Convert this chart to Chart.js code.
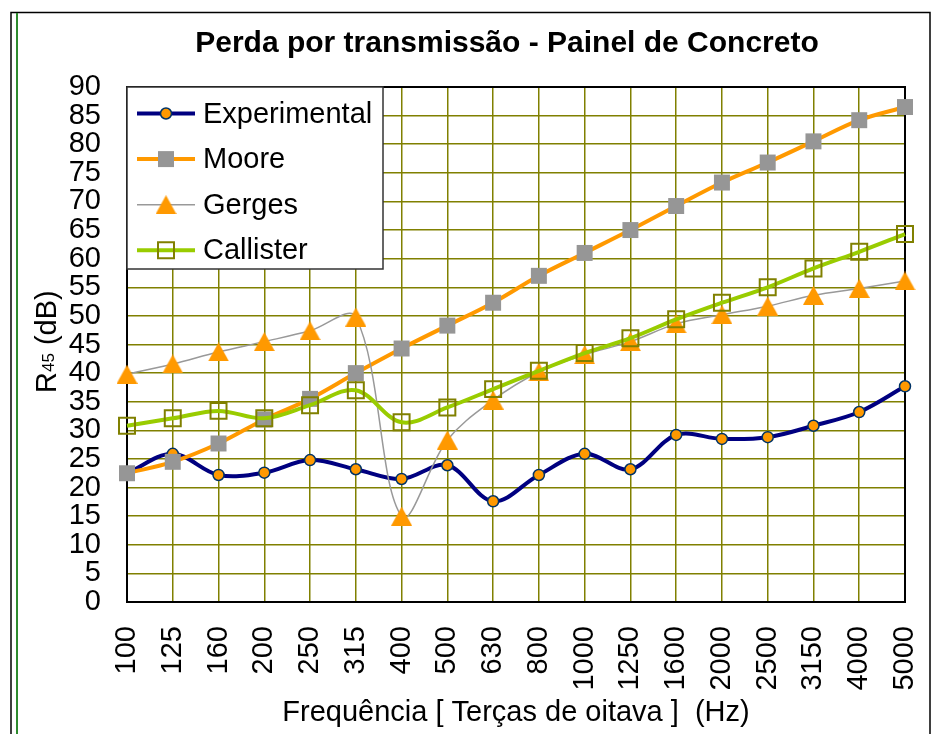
<!doctype html>
<html lang="pt">
<head>
<meta charset="utf-8">
<title>Perda por transmissão - Painel de Concreto</title>
<style>
  * { margin: 0; padding: 0; }
  body { background: #fff; }
  .chartBox { width: 937px; height: 734px; }
</style>
</head>
<body>
<div class="chartBox"><canvas id="myChart"></canvas></div>
<script src="https://cdn.jsdelivr.net/npm/chart.js"></script>
<script>
// terças de oitava (Hz)
const frequencias = ['100', '125', '160', '200', '250', '315', '400', '500', '630',
  '800', '1000', '1250', '1600', '2000', '2500', '3150', '4000', '5000'];

// R45 (dB)
const experimental = [22.5, 25.9, 22.2, 22.6, 24.8, 23.2, 21.5, 23.9, 17.6,
  22.2, 25.9, 23.2, 29.2, 28.5, 28.8, 30.8, 33.2, 37.7];
const moore = [22.5, 24.5, 27.7, 31.9, 35.5, 40.0, 44.3, 48.3, 52.3,
  57.0, 61.0, 65.0, 69.2, 73.3, 76.8, 80.5, 84.2, 86.5];
const gerges = [39.8, 41.6, 43.7, 45.5, 47.4, 49.8, 15.0, 28.3, 35.3,
  40.2, 43.2, 45.5, 48.6, 50.2, 51.7, 53.6, 54.8, 56.1];
const callister = [30.8, 32.1, 33.4, 32.1, 34.4, 37.0, 31.4, 34.0, 37.2,
  40.4, 43.5, 46.1, 49.4, 52.3, 55.0, 58.3, 61.2, 64.3];

const FONTE = "'Liberation Sans', Arial, sans-serif";

// marcador triangular centrado no ponto
function triangulo(w, h, cor) {
  const c = document.createElement('canvas');
  c.width = w; c.height = h;
  const g = c.getContext('2d');
  g.fillStyle = cor;
  g.beginPath();
  g.moveTo(w / 2, 0);
  g.lineTo(w, h);
  g.lineTo(0, h);
  g.closePath();
  g.fill();
  return c;
}
const marcaTriangulo = triangulo(21, 19, '#FF9900');

const moldura = {
  id: 'moldura',
  beforeDraw(chart) {
    const ctx = chart.ctx;
    ctx.save();
    ctx.fillStyle = '#fff';
    ctx.fillRect(0, 0, chart.width, chart.height);
    ctx.strokeStyle = '#000';
    ctx.lineWidth = 1.5;
    ctx.strokeRect(11, 12.5, 919, 740);
    ctx.strokeStyle = '#2E8B2E';
    ctx.lineWidth = 2;
    ctx.beginPath();
    ctx.moveTo(17, 13);
    ctx.lineTo(17, chart.height);
    ctx.stroke();

    // título
    ctx.fillStyle = '#000';
    ctx.font = 'bold 30px ' + FONTE;
    ctx.textAlign = 'center';
    ctx.textBaseline = 'alphabetic';
    ctx.fillText('Perda por transmissão - Painel de Concreto', 507, 52);

    // título do eixo y com índice menor
    ctx.translate(56, 393);
    ctx.rotate(-Math.PI / 2);
    ctx.textAlign = 'left';
    ctx.font = '29px ' + FONTE;
    ctx.fillText('R', 0, 0);
    let w = ctx.measureText('R').width;
    ctx.font = '17px ' + FONTE;
    ctx.fillText('45', w, -2);
    w += ctx.measureText('45').width;
    ctx.font = '29px ' + FONTE;
    ctx.fillText(' (dB)', w, 0);
    ctx.restore();
  },
  beforeDatasetsDraw(chart) {
    const ctx = chart.ctx, a = chart.chartArea;
    ctx.save();
    ctx.strokeStyle = '#000';
    ctx.lineWidth = 2;
    ctx.strokeRect(a.left, a.top, a.right - a.left, a.bottom - a.top);
    ctx.restore();
  },
  afterDraw(chart) {
    // legenda sobre a área do gráfico
    const ctx = chart.ctx, a = chart.chartArea;
    ctx.save();
    ctx.fillStyle = '#fff';
    ctx.strokeStyle = '#333';
    ctx.lineWidth = 1.5;
    ctx.fillRect(a.left, a.top, 256, 182);
    ctx.strokeRect(a.left, a.top, 256, 182);
    chart.data.datasets.forEach((ds, i) => {
      const y = a.top + 26.5 + i * 45.6;
      ctx.strokeStyle = ds.borderColor;
      ctx.lineWidth = ds.borderWidth;
      ctx.beginPath();
      ctx.moveTo(a.left + 10, y);
      ctx.lineTo(a.left + 68, y);
      ctx.stroke();
      ctx.fillStyle = ds.pointBackgroundColor;
      ctx.strokeStyle = ds.pointBorderColor;
      ctx.lineWidth = ds.pointBorderWidth;
      Chart.helpers.drawPoint(ctx, {
        pointStyle: ds.pointStyle,
        radius: ds.pointRadius,
        rotation: 0,
        borderWidth: ds.pointBorderWidth
      }, a.left + 39, y);
      ctx.fillStyle = '#000';
      ctx.font = '29px ' + FONTE;
      ctx.textAlign = 'left';
      ctx.textBaseline = 'middle';
      ctx.fillText(ds.label, a.left + 76, y + 1);
    });
    ctx.restore();
  }
};

const data = {
  labels: frequencias,
  datasets: [{
    label: 'Experimental',
    data: experimental,
    borderColor: '#000080',
    borderWidth: 4,
    pointStyle: 'circle',
    pointRadius: 5.5,
    pointBackgroundColor: '#FF9900',
    pointBorderColor: '#003366',
    pointBorderWidth: 1.5,
    order: 3
  }, {
    label: 'Moore',
    data: moore,
    borderColor: '#FF9900',
    borderWidth: 4,
    pointStyle: 'rect',
    pointRadius: 11.3,
    pointBackgroundColor: '#969696',
    pointBorderColor: '#969696',
    pointBorderWidth: 0,
    order: 2
  }, {
    label: 'Gerges',
    data: gerges,
    borderColor: '#999999',
    borderWidth: 1.5,
    pointStyle: marcaTriangulo,
    pointRadius: 10,
    pointBackgroundColor: '#FF9900',
    pointBorderColor: '#FF9900',
    pointBorderWidth: 0,
    order: 1
  }, {
    label: 'Callister',
    data: callister,
    borderColor: '#99CC00',
    borderWidth: 4,
    pointStyle: 'rect',
    pointRadius: 11.3,
    pointBackgroundColor: 'rgba(0,0,0,0)',
    pointBorderColor: '#808000',
    pointBorderWidth: 2,
    order: 0
  }]
};

const config = {
  type: 'line',
  data,
  options: {
    responsive: true,
    maintainAspectRatio: false,
    animation: false,
    events: [],
    layout: { padding: { left: 0, right: 32, top: 87, bottom: 0 } },
    datasets: { line: { tension: 0.35, clip: false, fill: false } },
    plugins: {
      legend: { display: false },
      tooltip: { enabled: false },
      title: { display: false }
    },
    scales: {
      x: {
        afterFit(s) {
          s.height = 132;
          s.paddingLeft = 0;
          s.paddingRight = 0;
        },
        grid: { color: '#808000', lineWidth: 1.5, drawTicks: false },
        border: { color: '#000', width: 2 },
        ticks: {
          color: '#000',
          font: { family: FONTE, size: 29 },
          minRotation: 90,
          maxRotation: 90,
          autoSkip: false,
          padding: 24
        },
        title: {
          display: true,
          text: 'Frequência [ Terças de oitava ]  (Hz)',
          color: '#000',
          font: { family: FONTE, size: 29 },
          padding: { top: 0, bottom: 4 }
        }
      },
      y: {
        min: 0,
        max: 90,
        afterFit(s) { s.width = 127; },
        grid: { color: '#808000', lineWidth: 1.5, drawTicks: false },
        border: { color: '#000', width: 2 },
        ticks: {
          stepSize: 5,
          autoSkip: false,
          color: '#000',
          font: { family: FONTE, size: 29 },
          padding: 26
        }
      }
    }
  },
  plugins: [moldura]
};

const myChart = new Chart(document.getElementById('myChart'), config);
</script>
</body>
</html>
